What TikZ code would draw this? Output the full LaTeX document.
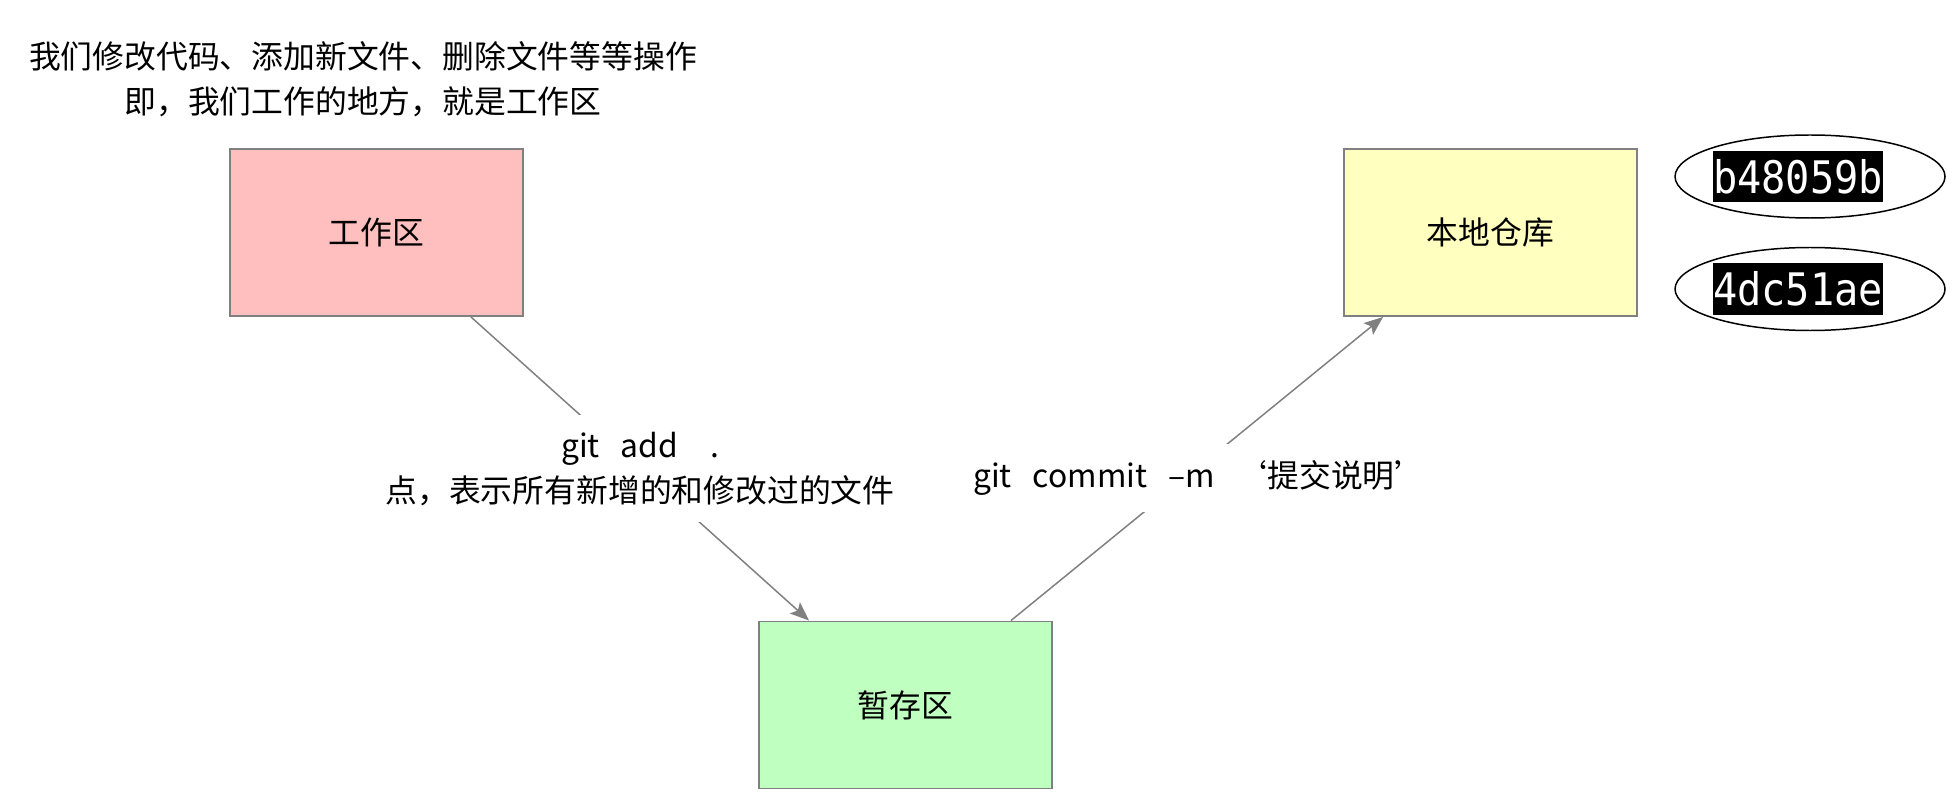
\documentclass[tikz,border=0pt]{standalone}
\usepackage{fontspec}
\setmainfont{Noto Sans CJK SC}
\newfontfamily\hashfont[FakeStretch=0.9]{DejaVu Sans Mono}
\usetikzlibrary{arrows.meta,shapes.geometric}
\definecolor{workcolor}{RGB}{255,191,191}
\definecolor{repocolor}{RGB}{255,255,192}
\definecolor{stagecolor}{RGB}{191,255,192}
\definecolor{edgecolor}{RGB}{128,128,128}

\begin{document}
\begin{tikzpicture}[every node/.style={font=\fontsize{18.1}{25.5}\selectfont},
    area/.style={draw=edgecolor, line width=1.1pt, minimum width=5.86cm, minimum height=3.34cm},
    flow/.style={draw=edgecolor, line width=0.85pt, -{Stealth[length=0.38cm,width=0.3cm,inset=0.08cm]}},
    cmd/.style={fill=white, inner xsep=2pt, inner ysep=0.33cm, align=center},
    hashring/.style={ellipse, draw, line width=0.85pt, minimum width=5.4cm, minimum height=1.66cm},
    hashtag/.style={fill=black, text=white, inner sep=0pt, minimum width=3.34cm, minimum height=1.02cm,
      font=\hashfont\fontsize{25.5}{26}\selectfont}]
    \useasboundingbox (0,0) rectangle (39.04,-16);
    % the three areas
    \node[area, fill=workcolor] (work) at (7.53,-4.65) {工作区};
    \node[area, fill=repocolor] (repo) at (29.81,-4.65) {本地仓库};
    \node[area, fill=stagecolor] (stage) at (18.11,-14.1) {暂存区};
    \node[align=center] (note) at (7.26,-1.59) {我们修改代码、添加新文件、删除文件等等操作\\即，我们工作的地方，就是工作区};
    % commits in the repo
    \node[hashring] (ringA) at (36.2,-3.53) {};
    \node[hashtag, xshift=-0.24cm] (hashA) at (ringA.center) {b48059b};
    \node[hashring] (ringB) at (36.2,-5.78) {};
    \node[hashtag, xshift=-0.24cm] (hashB) at (ringB.center) {4dc51ae};
    % git add / git commit
    \draw[flow] ([xshift=-1.06cm]work.south east) -- node[cmd] (addcmd)
      {git\hspace{0.42cm}add\hspace{0.64cm}.\\点，表示所有新增的和修改过的文件} ([xshift=1.02cm]stage.north west);
    \draw[flow] ([xshift=-0.84cm]stage.north east) -- node[cmd, pos=0.47, xshift=0.28cm] (commitcmd)
      {git\hspace{0.42cm}commit\hspace{0.42cm}–m\hspace{0.42cm}‘提交说明’} ([xshift=0.8cm]repo.south west);
\end{tikzpicture}
\end{document}
